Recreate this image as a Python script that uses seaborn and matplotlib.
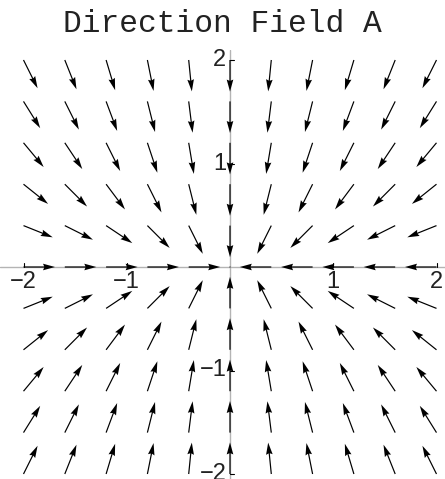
import numpy as np
import matplotlib
matplotlib.use("Agg")
import matplotlib.pyplot as plt
import seaborn as sns

# Grid of sample points and the field F(x, y) = (-x, -2y)
xs = [-2.0, -1.6, -1.2, -0.8, -0.4, 0.0, 0.4, 0.8, 1.2, 1.6, 2.0]
ys = [-2.0, -1.6, -1.2, -0.8, -0.4, 0.0, 0.4, 0.8, 1.2, 1.6, 2.0]
x_coef = -1.0
y_coef = -2.0
tick_vals = [-2, -1, 1, 2]
tick_text = ["\u22122", "\u22121", "1", "2"]
title = "Direction Field A"

sns.set_theme(style="white")
plt.rcParams["font.family"] = ["Liberation Sans", "DejaVu Sans"]

X, Y = np.meshgrid(xs, ys)
U = x_coef * X
V = y_coef * Y
mag = np.hypot(U, V)
arrow_len = 0.305
with np.errstate(invalid="ignore", divide="ignore"):
    Un = np.where(mag > 0, U / mag, 0.0) * arrow_len
    Vn = np.where(mag > 0, V / mag, 0.0) * arrow_len

fig = plt.figure(figsize=(4.45, 4.79), dpi=100)
ax = fig.add_axes([0.0, 0.0, 1.0, 429 / 479])
ax.set_xlim(-230 / 103.25, 215 / 103.25)
ax.set_ylim(-212 / 103.5, 217 / 103.5)

# coordinate axes through the origin
ax.axhline(0, color="#b4b4b4", lw=1.0, zorder=1)
ax.axvline(0, color="#b4b4b4", lw=1.0, zorder=1)
for s in ax.spines.values():
    s.set_visible(False)
ax.set_xticks([])
ax.set_yticks([])

tk = 0.04
for v, t in zip(tick_vals, tick_text):
    ax.plot([v, v], [0, tk], color="black", lw=0.8, zorder=2)
    ax.text(v, -0.035, t, ha="center", va="top", fontsize=17, color="#222222")
    ax.plot([0, tk], [v, v], color="black", lw=0.8, zorder=2)
    ax.text(-0.035, v, t, ha="right", va="center", fontsize=17, color="#222222")

ax.quiver(X, Y, Un, Vn, angles="xy", scale_units="xy", scale=1,
          units="dots", width=1.2, headwidth=5.5, headlength=10,
          headaxislength=9, color="black", zorder=3)

fig.text(0.5, 1 - 24 / 479, title, ha="center", va="center",
         fontsize=22.5, family=["Liberation Mono", "DejaVu Sans Mono"],
         color="#222222")

fig.savefig("out.png", dpi=100)
